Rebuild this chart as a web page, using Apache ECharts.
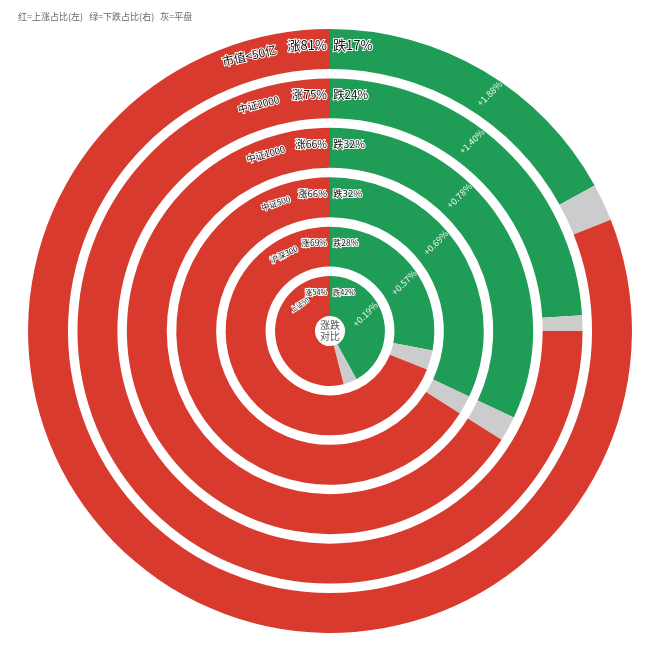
<!DOCTYPE html>
<html>
<head>
<meta charset="utf-8">
<script src="https://cdn.jsdelivr.net/npm/echarts@6/dist/echarts.min.js"></script>
<style>
  html, body { margin: 0; padding: 0; background: #fff; }
  #chart { width: 660px; height: 660px; }
</style>
</head>
<body>
<div id="chart"></div>
<script>
// ---- data (inner ring -> outer ring) ----
const rings = ['上证50', '沪深300', '中证500', '中证1000', '中证2000', '市值<50亿'];
const upPct = [54, 69, 66, 66, 75, 81];
const downPct = [42, 28, 32, 32, 24, 17];
const flatPct = [4, 3, 2, 2, 1, 2];
const changePct = [0.19, 0.57, 0.69, 0.78, 1.40, 1.88];
const legendText = '红=上涨占比(左)   绿=下跌占比(右)   灰=平盘';
const centerText = '涨跌\n对比';

// ---- layout / style ----
const CX = 330, CY = 331;
const R_IN = 10.3, R_OUT = 306.7, GAP = 9.5;
const changeLabelAngle = [64.7, 56.8, 50.2, 43.7, 36.8, 33.9];   // degrees clockwise from top
const nameLabelAngle = [49, 31, 23, 20, 17.5, 16.3];            // degrees counter-clockwise from top
const pctFontSize = [7.2, 8.4, 9.6, 10.5, 11.6, 13];
const nameFontSize = [6.5, 8, 8.2, 9.4, 10, 12];
const RED = '#d83a2d', GREEN = '#1f9d56', GRAY = '#cccccc';
const FONT = '"Noto Sans CJK SC", "Noto Sans", sans-serif';

const BAND = (R_OUT - R_IN) / rings.length;
const series = [];
const graphics = [];

rings.forEach(function (name, i) {
  const r0 = R_IN + i * BAND + GAP / 2;
  const r1 = R_IN + (i + 1) * BAND - GAP / 2;
  const rm = (r0 + r1) / 2;
  const rt = rm + 4;
  series.push({
    type: 'pie',
    name: name,
    center: [CX, CY],
    radius: [r0, r1],
    startAngle: 90,
    clockwise: true,
    silent: true,
    animation: false,
    avoidLabelOverlap: false,
    label: { show: false },
    labelLine: { show: false },
    itemStyle: { borderWidth: 0 },
    data: [
      { name: '跌', value: downPct[i], itemStyle: { color: GREEN } },
      { name: '平', value: flatPct[i], itemStyle: { color: GRAY } },
      { name: '涨', value: upPct[i], itemStyle: { color: RED } }
    ]
  });

  const fsPct = pctFontSize[i];
  const fsName = nameFontSize[i];
  const upTxt = '涨' + upPct[i] + '%';
  const downTxt = '跌' + downPct[i] + '%';
  const haloStyle = { fill: '#111', stroke: '#fff', lineWidth: 2, fontFamily: FONT };

  graphics.push({
    type: 'text', x: CX - 3, y: CY - rt, silent: true, z: 10,
    style: Object.assign({ text: upTxt, fontSize: fsPct, align: 'right', verticalAlign: 'middle' }, haloStyle)
  });
  graphics.push({
    type: 'text', x: CX + 3, y: CY - rt, silent: true, z: 10,
    style: Object.assign({ text: downTxt, fontSize: fsPct, align: 'left', verticalAlign: 'middle' }, haloStyle)
  });

  // ring name, tangential, to the left of the 涨 label
  const rn = rm + 5;
  const th = nameLabelAngle[i] * Math.PI / 180;
  graphics.push({
    type: 'text',
    x: CX - rn * Math.sin(th), y: CY - rn * Math.cos(th),
    rotation: th * (i === 0 ? 0.7 : 0.8), silent: true, z: 10,
    style: Object.assign({ text: name, fontSize: fsName, align: 'center', verticalAlign: 'middle' }, haloStyle)
  });

  // change label inside the green part
  const a = changeLabelAngle[i] * Math.PI / 180;
  graphics.push({
    type: 'text',
    x: CX + rt * Math.sin(a), y: CY - rt * Math.cos(a),
    rotation: Math.PI / 4, silent: true, z: 10,
    style: { text: '+' + changePct[i].toFixed(2) + '%', fontSize: 9, fill: 'rgba(255,255,255,0.92)',
             align: 'center', verticalAlign: 'middle', fontFamily: FONT }
  });
});

graphics.push({
  type: 'text', x: CX, y: CY, silent: true, z: 10,
  style: { text: centerText, fontSize: 10, lineHeight: 11, fill: '#555', align: 'center',
           verticalAlign: 'middle', fontFamily: FONT }
});

const chart = echarts.init(document.getElementById('chart'));
chart.setOption({
  backgroundColor: '#fff',
  animation: false,
  title: {
    text: legendText, left: 13, top: 7,
    textStyle: { fontSize: 9, fontWeight: 'normal', color: '#666', fontFamily: FONT }
  },
  series: series,
  graphic: graphics
});
</script>
</body>
</html>
